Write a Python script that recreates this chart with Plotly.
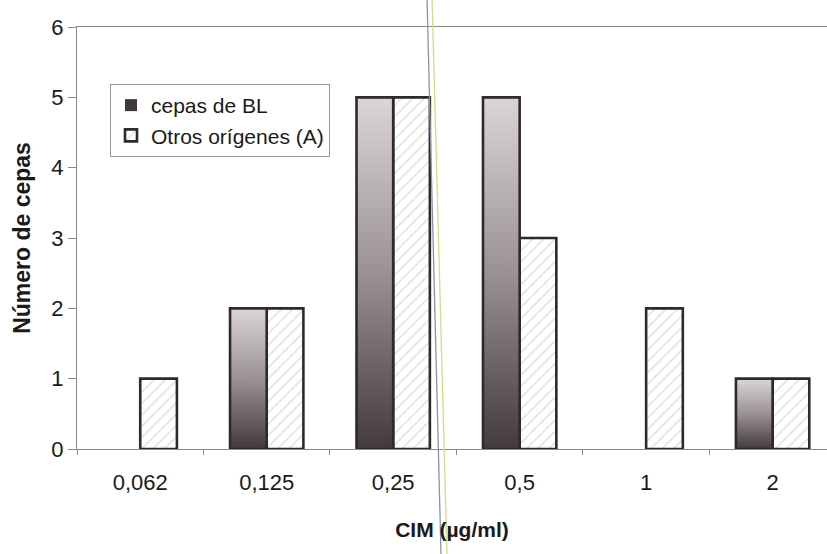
import plotly.graph_objects as go

# MIC categories (µg/ml) and number of strains per series
categorias = ["0,062", "0,125", "0,25", "0,5", "1", "2"]
cepas_bl = [0, 2, 5, 5, 0, 1]
otros_origenes = [1, 2, 5, 3, 2, 1]

ancho = 0.29          # bar width in category units
borde = "#2e2a2a"
posiciones = list(range(len(categorias)))

fig = go.Figure()

# "cepas de BL": base bars (also provide the legend swatch)
fig.add_trace(go.Bar(
    x=posiciones, y=cepas_bl, width=ancho, offset=-ancho,
    name="cepas de BL",
    marker=dict(color="#3f3838", line=dict(color=borde, width=0)),
    hoverinfo="skip",
))

# vertical grey gradient laid over each BL bar
for i, v in zip(posiciones, cepas_bl):
    if v <= 0:
        continue
    x0, x1 = i - ancho, i
    fig.add_trace(go.Scatter(
        x=[x0, x0, x1, x1, x0], y=[0, v, v, 0, 0],
        mode="lines", fill="toself",
        line=dict(color=borde, width=2.6),
        fillgradient=dict(type="vertical",
                          colorscale=[[0, "#433b3b"], [0.5, "#9a9292"], [1, "#dcd5d5"]]),
        showlegend=False, hoverinfo="skip",
    ))

# "Otros orígenes (A)": hatched bars
fig.add_trace(go.Bar(
    x=posiciones, y=otros_origenes, width=ancho, offset=0,
    name="Otros orígenes (A)",
    marker=dict(color="white",
                line=dict(color=borde, width=2.6),
                pattern=dict(shape="/", fgcolor="#bdbdbd", bgcolor="white",
                             size=8, solidity=0.18)),
))

fig.update_layout(
    width=827, height=554,
    margin=dict(l=77, r=0, t=27, b=105),
    paper_bgcolor="white", plot_bgcolor="white",
    font=dict(family="Liberation Sans, Arial, sans-serif", color="#1a1a1a"),
    showlegend=True,
    legend=dict(x=0.044, y=0.865, xanchor="left", yanchor="top",
                bgcolor="white", bordercolor="#9a9a9a", borderwidth=1,
                font=dict(size=21, color="#1a1a1a"),
                traceorder="normal"),
    xaxis=dict(
        range=[-0.5, 5.43], tickvals=posiciones, ticktext=categorias,
        showgrid=False, zeroline=False, showline=True, linecolor="#8a8a8a",
        linewidth=1, mirror=True, ticks="", tickfont=dict(size=22),
        ticklabelstandoff=14,
        minor=dict(ticks="outside", tick0=0.5, dtick=1, ticklen=5, tickcolor="#8a8a8a"),
        title=dict(text="<b>CIM (µg/ml)</b>", font=dict(size=21), standoff=27),
    ),
    yaxis=dict(
        range=[0, 6], dtick=1, showgrid=False, zeroline=False,
        showline=True, linecolor="#8a8a8a", linewidth=1,
        ticks="outside", ticklen=8, tickcolor="#8a8a8a",
        tickfont=dict(size=22),
        title=dict(text="<b>Número de cepas</b>", font=dict(size=23), standoff=14),
    ),
)

# thin vertical rule crossing the chart between 0,25 and 0,5
fig.add_shape(type="line", xref="paper", yref="paper",
              x0=(427 - 77) / 750, x1=(441 - 77) / 750, y0=1.07, y1=-0.25,
              line=dict(color="#8d93a6", width=1.3), layer="above")
fig.add_shape(type="line", xref="paper", yref="paper",
              x0=(432 - 77) / 750, x1=(447 - 77) / 750, y0=1.07, y1=-0.25,
              line=dict(color="#d8d98a", width=1.3), layer="above")

fig.write_html("out.html")
